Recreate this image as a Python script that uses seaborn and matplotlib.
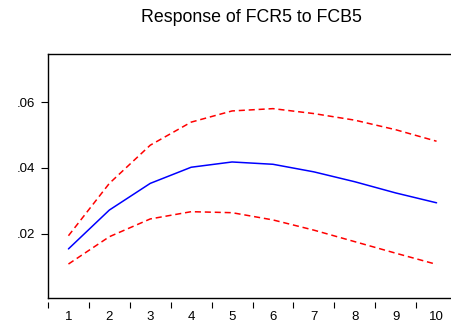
import numpy as np
import pandas as pd
import matplotlib
matplotlib.use("Agg")
import matplotlib.pyplot as plt
import seaborn as sns

# Impulse response values
periods = [1, 2, 3, 4, 5, 6, 7, 8, 9, 10]
response = [0.0154, 0.0272, 0.0353, 0.0402, 0.0418, 0.0411, 0.0388, 0.0358, 0.0324, 0.0294]
upper = [0.0194, 0.0353, 0.0469, 0.0539, 0.0573, 0.0580, 0.0565, 0.0545, 0.0516, 0.0481]
lower = [0.0108, 0.0191, 0.0245, 0.0267, 0.0264, 0.0242, 0.0211, 0.0176, 0.0141, 0.0107]
ytick_vals = [0.02, 0.04, 0.06]
ytick_labels = [".02", ".04", ".06"]

df = pd.DataFrame({"period": periods, "response": response,
                   "upper": upper, "lower": lower})

sns.set_style("white")
plt.rcParams['font.family'] = ['Liberation Sans', 'DejaVu Sans']
plt.rcParams['text.color'] = 'black'
plt.rcParams['xtick.color'] = 'black'
plt.rcParams['ytick.color'] = 'black'

fig = plt.figure(figsize=(4.52, 3.25), dpi=100)
ax = fig.add_axes([48 / 452, 0.0822, 409 / 452, 0.7517])

sns.lineplot(data=df, x="period", y="response", color="blue", linewidth=1.1, ax=ax)
sns.lineplot(data=df, x="period", y="upper", color="red", linewidth=1.1, ax=ax,
             linestyle=(0, (4, 2.5)))
sns.lineplot(data=df, x="period", y="lower", color="red", linewidth=1.1, ax=ax,
             linestyle=(0, (4, 2.5)))

ax.set_xlim(0.5, 10.5)
ax.set_ylim(0.0004, 0.0746)
ax.set_xlabel("")
ax.set_ylabel("")

for s in ax.spines.values():
    s.set_linewidth(1.0)
    s.set_color("black")
ax.spines["right"].set_visible(False)

ax.set_yticks(ytick_vals)
ax.set_yticklabels(ytick_labels)
ax.tick_params(axis="y", direction="out", length=5, width=0.8,
               labelsize=9.5, pad=4, left=True)

# x labels at periods, no marks; tick marks at boundaries on an offset axis
ax.set_xticks(periods)
ax.set_xticklabels([str(p) for p in periods])
ax.tick_params(axis="x", length=0, labelsize=9.5, pad=9)

sec = ax.secondary_xaxis(location=-0.014)
sec.set_xticks(np.arange(0.5, 10.5, 1.0))
sec.set_xticklabels([])
sec.tick_params(axis="x", direction="out", length=4.5, width=0.8, color="black")
sec.spines["bottom"].set_visible(False)

fig.text(0.5564, 0.945, "Response of FCR5 to FCB5", ha="center", va="center", fontsize=12.8)

fig.savefig("out.png", dpi=100)
